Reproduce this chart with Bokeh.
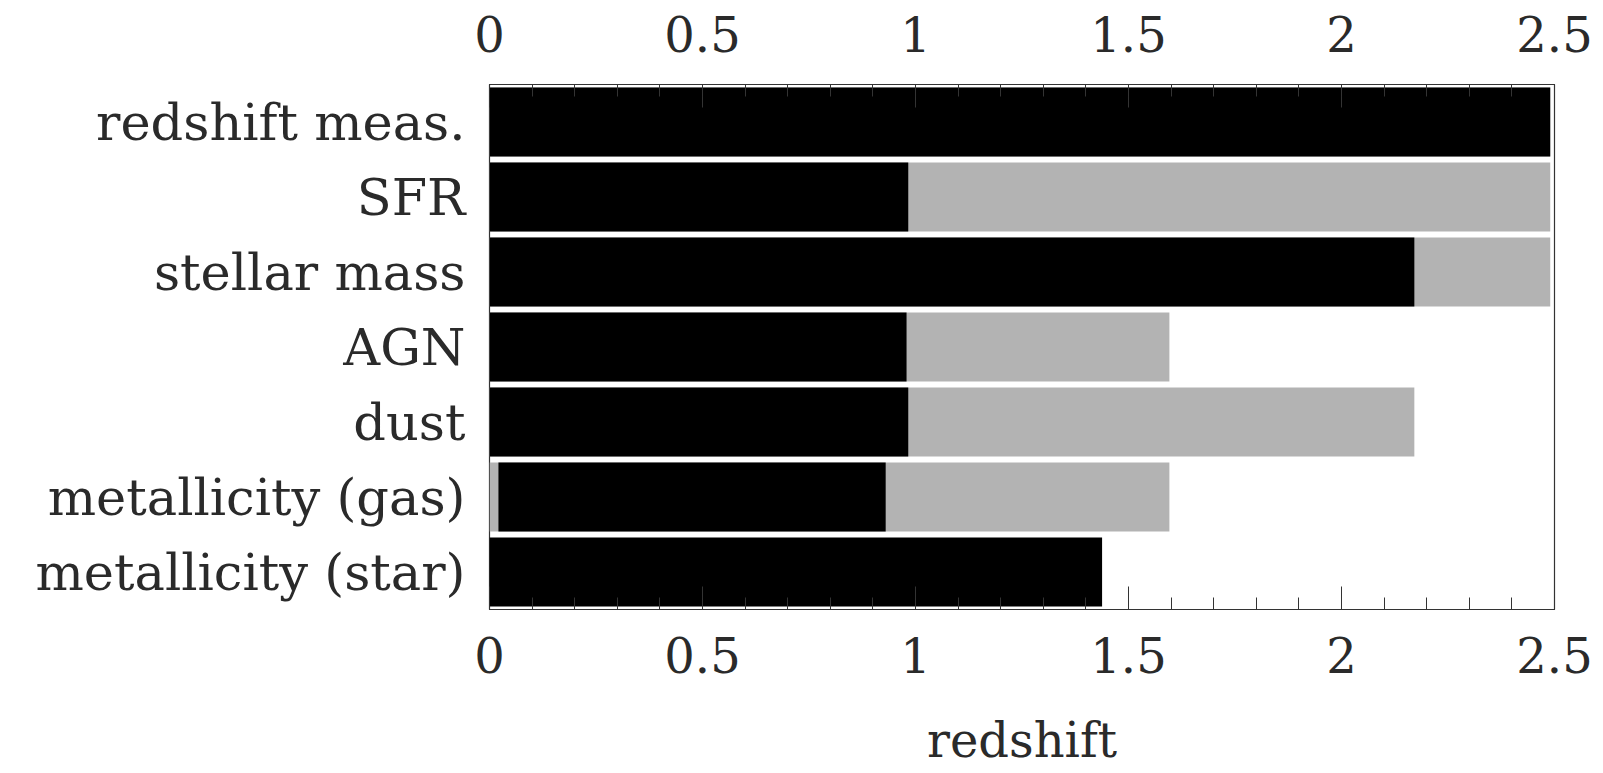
from bokeh.plotting import figure
from bokeh.models import (Range1d, FactorRange, LinearAxis, SingleIntervalTicker,
                          CustomJSTickFormatter, ColumnDataSource)
from bokeh.embed import file_html
from bokeh.resources import INLINE

categories = ["redshift meas.", "SFR", "stellar mass", "AGN", "dust",
              "metallicity (gas)", "metallicity (star)"]
black_start = [0, 0, 0, 0, 0, 0.021, 0]
black_end = [2.49, 0.983, 2.171, 0.979, 0.983, 0.93, 1.438]
gray_start = [0, 0, 0, 0, 0, 0, 0]
gray_end = [2.49, 2.49, 2.49, 1.596, 2.171, 1.596, 0]
x_tick_labels = ["0", "0.5", "1", "1.5", "2", "2.5"]
x_label = "redshift"

FONT = "DejaVu Serif"
FS = "48px"
TXT = "#2a2a2a"

p = figure(width=1603, height=773, output_backend="svg", toolbar_location=None,
           x_range=Range1d(0, 2.5),
           y_range=FactorRange(factors=list(reversed(categories)), range_padding=0),
           min_border_left=489, min_border_right=49, min_border_top=84,
           min_border_bottom=164)
p.background_fill_color = "white"
p.border_fill_color = "white"
p.outline_line_color = "#333333"
p.outline_line_width = 1.2
p.xgrid.visible = False
p.ygrid.visible = False

src = ColumnDataSource(dict(cat=categories, bs=black_start, be=black_end,
                            gs=gray_start, ge=gray_end))
p.hbar(y="cat", left="gs", right="ge", height=0.92, source=src,
       fill_color="#b3b3b3", line_color=None)
p.hbar(y="cat", left="bs", right="be", height=0.92, source=src,
       fill_color="#000000", line_color=None)

fmt = CustomJSTickFormatter(args=dict(labels=x_tick_labels),
                            code="return labels[Math.round(tick/0.5)]")

def style_x(ax, standoff):
    ax.ticker = SingleIntervalTicker(interval=0.5, num_minor_ticks=5)
    ax.formatter = fmt
    ax.major_tick_in = 23
    ax.major_tick_out = 0
    ax.minor_tick_in = 12
    ax.minor_tick_out = 0
    ax.major_tick_line_color = "#333333"
    ax.minor_tick_line_color = "#333333"
    ax.axis_line_color = "#333333"
    ax.major_label_text_font = FONT
    ax.major_label_text_font_size = FS
    ax.major_label_text_color = TXT
    ax.major_label_standoff = standoff

bottom = p.xaxis[0]
style_x(bottom, 27)
bottom.axis_label = x_label
bottom.axis_label_text_font = FONT
bottom.axis_label_text_font_size = FS
bottom.axis_label_text_font_style = "normal"
bottom.axis_label_text_color = TXT
bottom.axis_label_standoff = 36

top = LinearAxis()
style_x(top, 33)
p.add_layout(top, "above")

ya = p.yaxis[0]
ya.major_tick_line_color = None
ya.minor_tick_line_color = None
ya.axis_line_color = None
ya.major_tick_out = 0
ya.major_label_standoff = 24
ya.major_label_text_font = FONT
ya.major_label_text_font_size = "51px"
ya.major_label_text_color = TXT

open("out.html", "w").write(file_html(p, INLINE))
